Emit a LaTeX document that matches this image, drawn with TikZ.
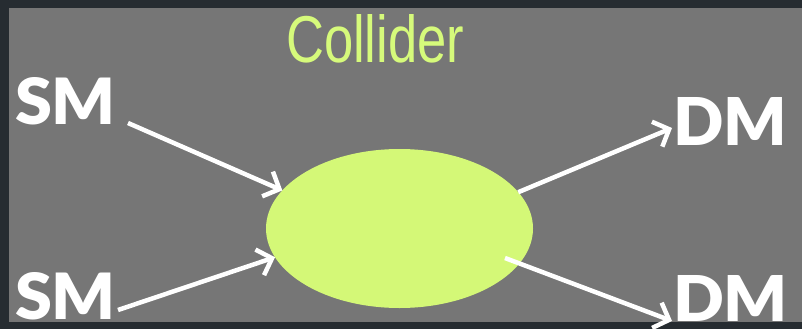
\documentclass[tikz,border=0pt]{standalone}
\usepackage{fontspec}
\setmainfont{Lato}
\newfontfamily\heavyfont{Lato Black}
\newfontfamily\arialfont{Liberation Sans}
\usetikzlibrary{arrows.meta,shapes.geometric}
\definecolor{frame}{HTML}{262C31}
\definecolor{panel}{HTML}{767676}
\definecolor{blob}{HTML}{D4F877}
\definecolor{ttl}{HTML}{D6FA7B}
\tikzset{
  lbl/.style={inner sep=0pt, outer sep=0pt, text=white, font=\heavyfont},
  arr/.style={draw=white, line width=4.5pt, -{Straight Barb[length=13pt,width=27pt]}},
}
\begin{document}
\begin{tikzpicture}[x=1pt,y=-1pt]
\useasboundingbox (0,0) rectangle (802,329);
\fill[frame] (0,0) rectangle (802,329);
\fill[panel] (9,8) rectangle (802,322);
\node[inner sep=0pt, anchor=south west, text=ttl] (title) at (286,63) {\resizebox{178pt}{48pt}{\arialfont Collider}};
\node[ellipse, fill=blob, minimum width=267pt, minimum height=159pt, inner sep=0pt, outer sep=0pt] (coll) at (399.5,228.5) {};
\node[lbl, anchor=south west] (sm1) at (15,125) {\resizebox{101pt}{47pt}{SM}};
\node[lbl, anchor=south west] (sm2) at (15,320) {\resizebox{101pt}{47pt}{SM}};
\node[lbl, anchor=south west] (dm1) at (673,145) {\resizebox{114pt}{48pt}{DM}};
\node[lbl, anchor=south west] (dm2) at (673,321) {\resizebox{115pt}{46pt}{DM}};
\coordinate (s1) at (128,123);
\coordinate (s2) at (118,310);
\coordinate (t1) at (672,128);
\coordinate (t2) at (672,321);
\coordinate (o2) at (505,258);
\draw[arr] (s1) -- (coll.162);
\draw[arr] (s2) -- (coll.193);
\draw[arr] (coll.17) -- (t1);
\draw[arr] (o2) -- (t2);
\end{tikzpicture}
\end{document}
